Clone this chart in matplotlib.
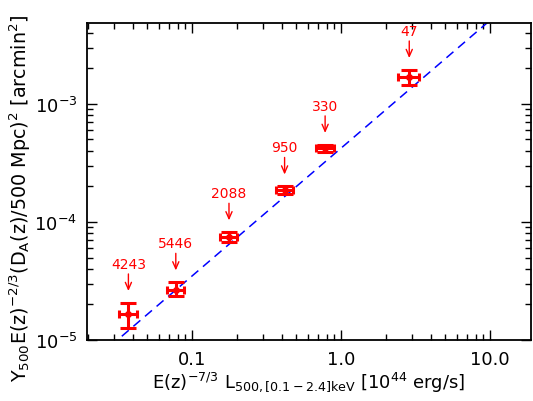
import numpy as np
import matplotlib
matplotlib.use("Agg")
import matplotlib.pyplot as plt
from matplotlib.ticker import LogLocator, FixedLocator, FixedFormatter, NullFormatter

# ---- data ----
labels = ["4243", "5446", "2088", "950", "330", "47"]
lx = [0.0374, 0.0778, 0.177, 0.418, 0.782, 2.87]
lx_lo = [0.0324, 0.0683, 0.154, 0.366, 0.680, 2.43]
lx_hi = [0.0430, 0.0888, 0.201, 0.476, 0.898, 3.33]
ysz = [1.66e-5, 2.67e-5, 7.42e-5, 1.85e-4, 4.22e-4, 1.68e-3]
ysz_lo = [1.26e-5, 2.34e-5, 6.73e-5, 1.72e-4, 3.90e-4, 1.45e-3]
ysz_hi = [2.06e-5, 3.08e-5, 8.18e-5, 2.00e-4, 4.50e-4, 1.94e-3]

# scaling relation y = norm * x**slope
rel_norm = 4.22e-4
rel_slope = 1.083

xticks = [0.1, 1.0, 10.0]
xticklabels = ["0.1", "1.0", "10.0"]
yticks = [1e-5, 1e-4, 1e-3]
yticklabels = [r"10$^{-5}$", r"10$^{-4}$", r"10$^{-3}$"]

plt.rcParams['font.family'] = ['DejaVu Sans']
plt.rcParams['mathtext.fontset'] = 'dejavusans'

fig = plt.figure(figsize=(5.33, 4.02), dpi=100)
ax = fig.add_axes([87/533, 61/402, 444/533, 317/402])
ax.set_xscale('log')
ax.set_yscale('log')
ax.set_xlim(10**-1.705, 10**1.275)
ax.set_ylim(1e-5, 10**-2.314)

red = '#ff0000'
xl = np.array(lx); yl = np.array(ysz)
yerr = [yl - np.array(ysz_lo), np.array(ysz_hi) - yl]
xerr = [xl - np.array(lx_lo), np.array(lx_hi) - xl]

# relation line
xx = np.logspace(-1.705, 1.275, 200)
ax.plot(xx, rel_norm * xx**rel_slope, color='#0000ff', lw=1.1,
        dashes=(6, 4), zorder=2)

ax.errorbar(xl, yl, yerr=yerr, fmt='none', ecolor=red, elinewidth=2.2,
            capsize=6, capthick=2.2, zorder=3)
ax.errorbar(xl, yl, xerr=xerr, fmt='o', color=red, ms=4, ecolor=red,
            elinewidth=2.2, capsize=3, capthick=2.2, zorder=3)

for lab, x, yh in zip(labels, lx, ysz_hi):
    ax.annotate('', xy=(x, yh), xytext=(0, 29), textcoords='offset pixels',
                arrowprops=dict(arrowstyle='->,head_length=0.5,head_width=0.22',
                                color=red, lw=1.0, shrinkA=0, shrinkB=8.6))
    ax.annotate(lab, xy=(x, yh), xytext=(0, 39), textcoords='offset pixels',
                ha='center', va='center', color=red, fontsize=10)

# ticks
ax.xaxis.set_major_locator(FixedLocator(xticks))
ax.xaxis.set_major_formatter(FixedFormatter(xticklabels))
ax.xaxis.set_minor_locator(LogLocator(base=10, subs=np.arange(2, 10), numticks=20))
ax.xaxis.set_minor_formatter(NullFormatter())
ax.yaxis.set_major_locator(FixedLocator(yticks))
ax.yaxis.set_major_formatter(FixedFormatter(yticklabels))
ax.yaxis.set_minor_locator(LogLocator(base=10, subs=np.arange(2, 10), numticks=20))
ax.yaxis.set_minor_formatter(NullFormatter())
ax.tick_params(which='both', direction='in', top=True, right=True,
               width=1.0, labelsize=13, pad=7)
ax.tick_params(which='major', length=7)
ax.tick_params(which='minor', length=4)
for s in ax.spines.values():
    s.set_linewidth(1.3)

ax.set_xlabel(r"E(z)$^{-7/3}$ L$_{500,[0.1-2.4]\mathrm{keV}}$ [10$^{44}$ erg/s]",
              fontsize=13, labelpad=1)
ax.set_ylabel(r"Y$_{500}$E(z)$^{-2/3}$(D$_\mathrm{A}$(z)/500 Mpc)$^2$ [arcmin$^2$]",
              fontsize=13.8)
ax.yaxis.set_label_coords(-0.122, 0.45)

fig.savefig('out.png', dpi=100)
